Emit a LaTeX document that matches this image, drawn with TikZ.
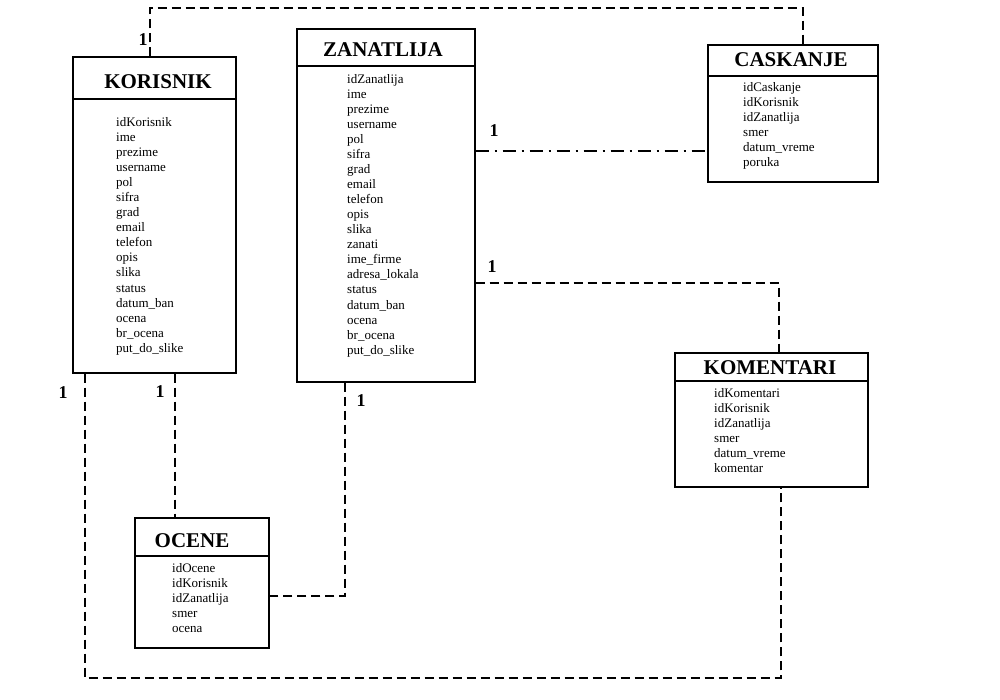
\documentclass[tikz,border=0pt]{standalone}
\usepackage{fontspec}
\setmainfont{Liberation Serif}
\newfontfamily\tbold{Liberation Serif Bold}
\begin{document}
\begin{tikzpicture}[x=1pt,y=-1pt,
  box/.style={draw,line width=1.2pt,rectangle,inner sep=0pt},
  ttl/.style={font=\tbold\fontsize{21}{24}\selectfont},
  attr/.style={font=\fontsize{13}{15}\selectfont,anchor=base west,inner sep=0pt},
  card/.style={font=\tbold\fontsize{18}{20}\selectfont},
  er/.style={line width=1.1pt,dash pattern=on 9pt off 5pt},
  erdd/.style={line width=1.1pt,dash pattern=on 13pt off 6pt on 2pt off 6pt}]
\useasboundingbox[fill=white] (0,0) rectangle (1000,700);

% KORISNIK
\node[box,minimum width=163pt,minimum height=316pt] (kor) at (154.5,215) {};
\draw[line width=1.2pt] (kor.west |- 0,99) -- (kor.east |- 0,99);
\node[ttl] (korT) at (158,82) {KORISNIK};
\foreach \t [count=\i from 0] in {idKorisnik,ime,prezime,username,pol,sifra,grad,email,telefon,opis,slika,status,datum\_ban,ocena,br\_ocena,put\_do\_slike}
  \node[attr] (korA\i) at (116,127+15*\i) {\t};

% ZANATLIJA
\node[box,minimum width=178pt,minimum height=353pt] (zan) at (386,205.5) {};
\draw[line width=1.2pt] (zan.west |- 0,66) -- (zan.east |- 0,66);
\node[ttl] (zanT) at (383,50) {ZANATLIJA};
\foreach \t [count=\i from 0] in {idZanatlija,ime,prezime,username,pol,sifra,grad,email,telefon,opis,slika,zanati,ime\_firme,adresa\_lokala,status,datum\_ban,ocena,br\_ocena,put\_do\_slike}
  \node[attr] (zanA\i) at (347,84+15*\i) {\t};

% CASKANJE
\node[box,minimum width=170pt,minimum height=137pt] (cas) at (793,113.5) {};
\draw[line width=1.2pt] (cas.west |- 0,76) -- (cas.east |- 0,76);
\node[ttl] (casT) at (791,60) {CASKANJE};
\foreach \t [count=\i from 0] in {idCaskanje,idKorisnik,idZanatlija,smer,datum\_vreme,poruka}
  \node[attr] (casA\i) at (743,92+15*\i) {\t};

% KOMENTARI
\node[box,minimum width=193pt,minimum height=134pt] (kom) at (771.5,420) {};
\draw[line width=1.2pt] (kom.west |- 0,381) -- (kom.east |- 0,381);
\node[ttl] (komT) at (770,368) {KOMENTARI};
\foreach \t [count=\i from 0] in {idKomentari,idKorisnik,idZanatlija,smer,datum\_vreme,komentar}
  \node[attr] (komA\i) at (714,397+15*\i) {\t};

% OCENE
\node[box,minimum width=134pt,minimum height=130pt] (oce) at (202,583) {};
\draw[line width=1.2pt] (oce.west |- 0,556) -- (oce.east |- 0,556);
\node[ttl] (oceT) at (192,541) {OCENE};
\foreach \t [count=\i from 0] in {idOcene,idKorisnik,idZanatlija,smer,ocena}
  \node[attr] (oceA\i) at (172,572+15*\i) {\t};

% connectors
\coordinate (t1) at (803,8);
\draw[er] (kor.north -| 150,0) |- (t1) -- (cas.north -| 803,0);
\draw[erdd] (zan.east |- 0,151) -- (cas.west |- 0,151);
\draw[er] (zan.east |- 0,283) -| (kom.north -| 779,0);
\draw[er] (kor.south -| 175,0) -- (oce.north -| 175,0);
\draw[er] (zan.south -| 345,0) |- (oce.east |- 0,596);
\coordinate (b6) at (781,678);
\draw[er] (kor.south -| 85,0) |- (b6) -- (kom.south -| 781,0);

% cardinalities
\node[card] (c1) at (143,40) {1};
\node[card] (c2) at (494,131) {1};
\node[card] (c3) at (492,267) {1};
\node[card] (c4) at (160,392) {1};
\node[card] (c5) at (361,401) {1};
\node[card] (c6) at (63,393) {1};
\end{tikzpicture}
\end{document}
